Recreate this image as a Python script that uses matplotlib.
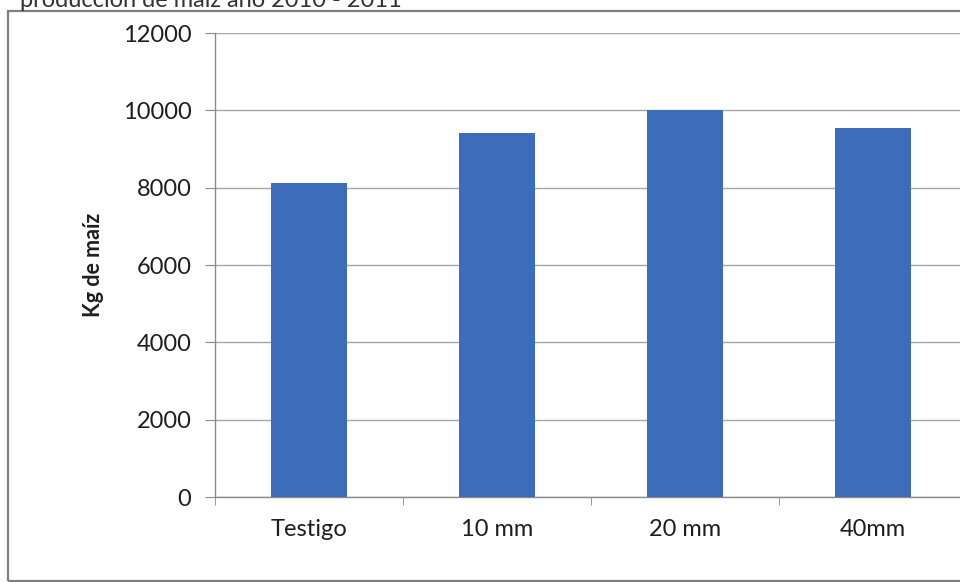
import matplotlib.pyplot as plt
from matplotlib.patches import Rectangle

# Rendimiento de maíz por tratamiento
tratamientos = ['Testigo', '10 mm', '20 mm', '40mm']
kg_maiz = [8130, 9420, 10020, 9540]
y_ticks = [0, 2000, 4000, 6000, 8000, 10000, 12000]

plt.rcParams['font.family'] = ['Lato', 'DejaVu Sans']

fig = plt.figure(figsize=(9.6, 5.82), dpi=100)

# marco exterior del gráfico
fig.patches.append(Rectangle((8 / 960, 1 / 582), 1.2, 570 / 582,
                             transform=fig.transFigure, fill=False,
                             edgecolor='#7f7f7f', linewidth=1.6))

# título (cortado en el borde superior)
fig.text(20 / 960, 1 + 10 / 582, 'producción de maíz año 2010 - 2011',
         fontsize=17, color='#333333', va='top', ha='left')

ax = fig.add_axes([215 / 960, 1 - 497 / 582, 752 / 960, 464 / 582])
x = range(len(tratamientos))
ax.bar(x, kg_maiz, width=0.4, color='#3d6dba', zorder=3)

ax.set_xlim(-0.5, len(tratamientos) - 0.5)
ax.set_ylim(0, 12000)
ax.set_yticks(y_ticks)
ax.set_yticklabels([str(v) for v in y_ticks], fontsize=17, color='#1e1e1e')
ax.set_xticks(list(x))
ax.set_xticklabels(tratamientos, fontsize=17, color='#1e1e1e')
ax.set_xticks([i - 0.5 for i in range(len(tratamientos) + 1)], minor=True)

ax.tick_params(axis='y', length=7, color='#8a8a8a', pad=10)
ax.tick_params(axis='x', which='major', length=0, pad=16)
ax.tick_params(axis='x', which='minor', length=6, color='#8a8a8a')

ax.grid(axis='y', color='#a6a6a6', linewidth=1.0, zorder=0)
for side in ['top', 'right']:
    ax.spines[side].set_visible(False)
for side in ['left', 'bottom']:
    ax.spines[side].set_color('#8a8a8a')
    ax.spines[side].set_linewidth(1.0)

ax.set_ylabel('Kg de maíz', fontsize=15.5, fontweight='bold', color='#1e1e1e')
ax.yaxis.set_label_coords(-(215 - 104) / 752, 0.5)

fig.savefig('out.png', dpi=100)
